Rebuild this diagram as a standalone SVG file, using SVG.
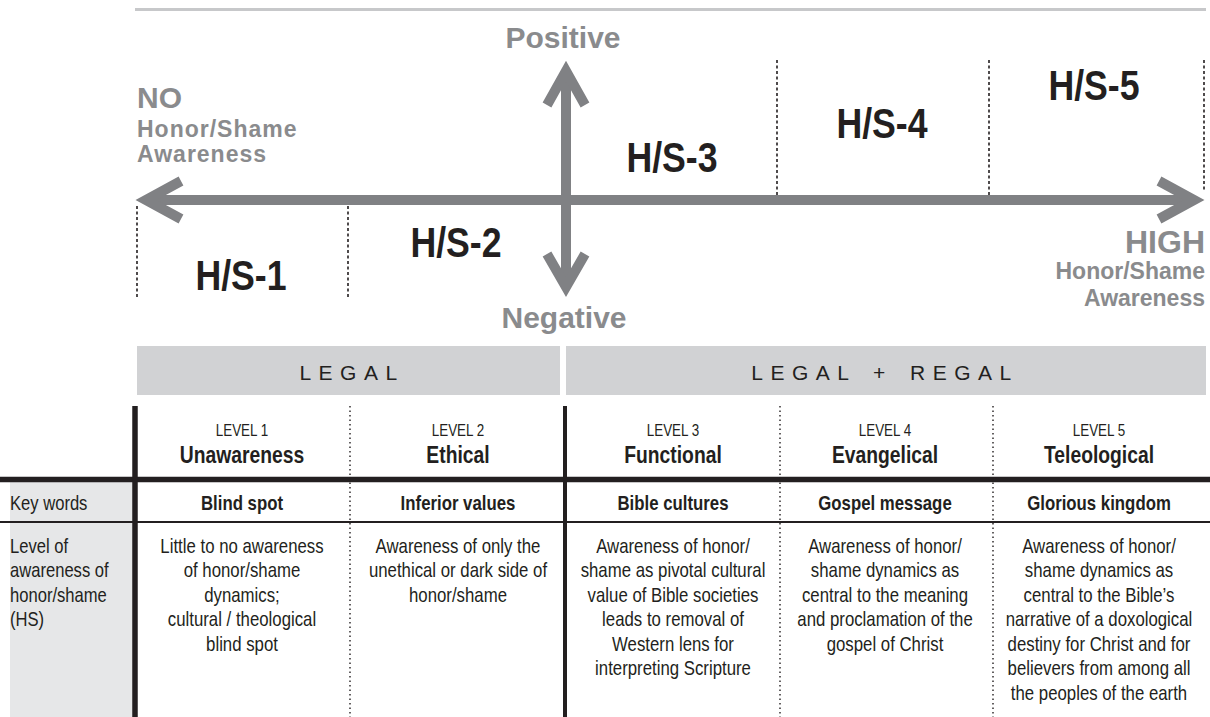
<svg xmlns="http://www.w3.org/2000/svg" width="1210" height="717" viewBox="0 0 1210 717">
<style>
.ax{fill:none;stroke:#808184;stroke-width:10;stroke-linejoin:miter;stroke-miterlimit:10}
.dot{stroke:#231f20;stroke-width:1.6;stroke-dasharray:3 2.5;fill:none}
.tdot{stroke:#231f20;stroke-width:1.4;stroke-dasharray:1.5 3;fill:none}
.gb{font-family:"Liberation Sans",Arial,sans-serif;font-weight:bold;fill:#8a8b8d}
.hs{font-family:"Liberation Sans",Arial,sans-serif;font-weight:bold;font-size:42px;fill:#231f20;text-anchor:middle}
.band{fill:#d1d2d4}
.bt{font-family:"Liberation Sans",Arial,sans-serif;font-size:21px;fill:#231f20;letter-spacing:7.5px;text-anchor:middle}
.n{font-family:"Liberation Sans",Arial,sans-serif;fill:#231f20}
.c{text-anchor:middle}
.lv{font-size:16px}
.ttl{font-size:23px;font-weight:bold}
.kw{font-size:20px;font-weight:bold}
.body{font-size:20px}
</style>
<rect x="0" y="0" width="1210" height="717" fill="#ffffff"/>
<line x1="135" y1="9.5" x2="1206" y2="9.5" stroke="#c7c8ca" stroke-width="3"/>

<g id="connectors">
  <line class="ax" x1="146" y1="200" x2="1194" y2="200"/>
  <polyline class="ax" points="181,181 146,200 181,219"/>
  <polyline class="ax" points="1159,181 1194,200 1159,219"/>
  <line class="ax" x1="566" y1="71" x2="566" y2="287"/>
  <polyline class="ax" points="547,105 566,71 585,105"/>
  <polyline class="ax" points="547,254 566,287 585,254"/>
  <line class="dot" x1="137" y1="206" x2="137" y2="297"/>
  <line class="dot" x1="348" y1="206" x2="348" y2="297"/>
  <line class="dot" x1="777" y1="60" x2="777" y2="195"/>
  <line class="dot" x1="989" y1="60" x2="989" y2="195"/>
  <line class="dot" x1="1204" y1="60" x2="1204" y2="190"/>
</g>

<g id="axis-labels">
  <text class="gb" x="563" y="48" font-size="30" text-anchor="middle">Positive</text>
  <text class="gb" x="564" y="328" font-size="30" text-anchor="middle">Negative</text>
  <text class="gb" x="137" y="108" font-size="30">NO</text>
  <text class="gb" x="137" y="137" font-size="23" letter-spacing="1">Honor/Shame</text>
  <text class="gb" x="137" y="162" font-size="23" letter-spacing="1">Awareness</text>
  <text class="gb" x="1205" y="253" font-size="32" text-anchor="end">HIGH</text>
  <text class="gb" x="1205" y="279" font-size="23" text-anchor="end">Honor/Shame</text>
  <text class="gb" x="1205" y="306" font-size="23" text-anchor="end">Awareness</text>
</g>

<g id="hs1" transform="translate(241 0) scale(0.85 1)"><text class="hs" x="0" y="290">H/S-1</text></g>
<g id="hs2" transform="translate(456 0) scale(0.85 1)"><text class="hs" x="0" y="257">H/S-2</text></g>
<g id="hs3" transform="translate(672 0) scale(0.85 1)"><text class="hs" x="0" y="172">H/S-3</text></g>
<g id="hs4" transform="translate(882 0) scale(0.85 1)"><text class="hs" x="0" y="138">H/S-4</text></g>
<g id="hs5" transform="translate(1094 0) scale(0.85 1)"><text class="hs" x="0" y="100">H/S-5</text></g>

<g id="band-legal">
  <rect class="band" x="137" y="346" width="423" height="49"/>
  <text class="bt" x="352" y="380">LEGAL</text>
</g>
<g id="band-legal-regal">
  <rect class="band" x="566" y="346" width="640" height="49"/>
  <text class="bt" x="885" y="380" word-spacing="4">LEGAL + REGAL</text>
</g>

<g id="table">
  <rect x="10" y="482" width="124" height="235" fill="#e6e7e8"/>
  <line x1="0" y1="479.5" x2="1210" y2="479.5" stroke="#231f20" stroke-width="5.5"/>
  <line x1="0" y1="522" x2="1210" y2="522" stroke="#231f20" stroke-width="2"/>
  <line x1="135" y1="406" x2="135" y2="717" stroke="#231f20" stroke-width="5.5"/>
  <line x1="565" y1="406" x2="565" y2="717" stroke="#231f20" stroke-width="4"/>
  <line class="tdot" x1="350" y1="406" x2="350" y2="717"/>
  <line class="tdot" x1="780" y1="406" x2="780" y2="717"/>
  <line class="tdot" x1="993" y1="406" x2="993" y2="717"/>

  <g id="row-labels" transform="translate(10 0) scale(0.83 1)">
    <text class="n body" x="0" y="510">Key words</text>
    <text class="n body" x="0" y="553">Level of</text>
    <text class="n body" x="0" y="577.5">awareness of</text>
    <text class="n body" x="0" y="602">honor/shame</text>
    <text class="n body" x="0" y="626.5">(HS)</text>
  </g>

  <g id="level1" transform="translate(242 0) scale(0.84 1)">
    <text class="n c lv" x="0" y="436">LEVEL 1</text>
    <text class="n c ttl" x="0" y="463">Unawareness</text>
    <text class="n c kw" x="0" y="510">Blind spot</text>
    <text class="n c body" x="0" y="553">Little to no awareness</text>
    <text class="n c body" x="0" y="577.5">of honor/shame</text>
    <text class="n c body" x="0" y="602">dynamics;</text>
    <text class="n c body" x="0" y="626.5">cultural / theological</text>
    <text class="n c body" x="0" y="651">blind spot</text>
  </g>
  <g id="level2" transform="translate(458 0) scale(0.84 1)">
    <text class="n c lv" x="0" y="436">LEVEL 2</text>
    <text class="n c ttl" x="0" y="463">Ethical</text>
    <text class="n c kw" x="0" y="510">Inferior values</text>
    <text class="n c body" x="0" y="553">Awareness of only the</text>
    <text class="n c body" x="0" y="577.5">unethical or dark side of</text>
    <text class="n c body" x="0" y="602">honor/shame</text>
  </g>
  <g id="level3" transform="translate(673 0) scale(0.84 1)">
    <text class="n c lv" x="0" y="436">LEVEL 3</text>
    <text class="n c ttl" x="0" y="463">Functional</text>
    <text class="n c kw" x="0" y="510">Bible cultures</text>
    <text class="n c body" x="0" y="553">Awareness of honor/</text>
    <text class="n c body" x="0" y="577.5">shame as pivotal cultural</text>
    <text class="n c body" x="0" y="602">value of Bible societies</text>
    <text class="n c body" x="0" y="626.5">leads to removal of</text>
    <text class="n c body" x="0" y="651">Western lens for</text>
    <text class="n c body" x="0" y="675.5">interpreting Scripture</text>
  </g>
  <g id="level4" transform="translate(885 0) scale(0.84 1)">
    <text class="n c lv" x="0" y="436">LEVEL 4</text>
    <text class="n c ttl" x="0" y="463">Evangelical</text>
    <text class="n c kw" x="0" y="510">Gospel message</text>
    <text class="n c body" x="0" y="553">Awareness of honor/</text>
    <text class="n c body" x="0" y="577.5">shame dynamics as</text>
    <text class="n c body" x="0" y="602">central to the meaning</text>
    <text class="n c body" x="0" y="626.5">and proclamation of the</text>
    <text class="n c body" x="0" y="651">gospel of Christ</text>
  </g>
  <g id="level5" transform="translate(1099 0) scale(0.84 1)">
    <text class="n c lv" x="0" y="436">LEVEL 5</text>
    <text class="n c ttl" x="0" y="463">Teleological</text>
    <text class="n c kw" x="0" y="510">Glorious kingdom</text>
    <text class="n c body" x="0" y="553">Awareness of honor/</text>
    <text class="n c body" x="0" y="577.5">shame dynamics as</text>
    <text class="n c body" x="0" y="602">central to the Bible’s</text>
    <text class="n c body" x="0" y="626.5">narrative of a doxological</text>
    <text class="n c body" x="0" y="651">destiny for Christ and for</text>
    <text class="n c body" x="0" y="675.5">believers from among all</text>
    <text class="n c body" x="0" y="700">the peoples of the earth</text>
  </g>
</g>
</svg>
